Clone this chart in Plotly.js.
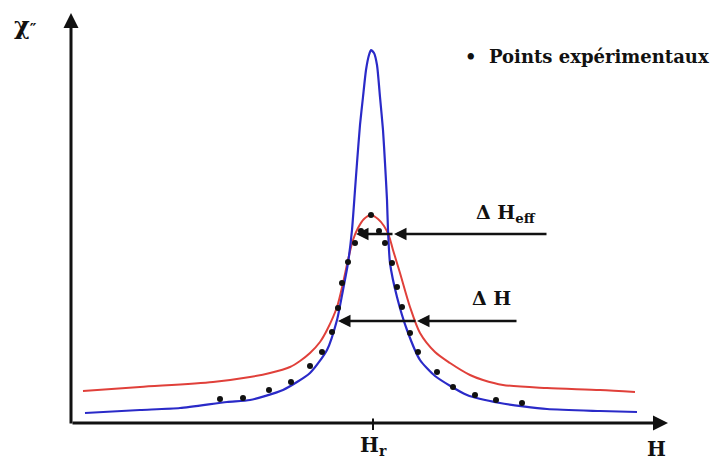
<!DOCTYPE html>
<html>
<head>
<meta charset="utf-8">
<script src="https://cdn.plot.ly/plotly-3.0.1.min.js"></script>
<style>html,body{margin:0;padding:0;background:#fff;}#chart{width:719px;height:464px;}</style>
</head>
<body>
<div id="chart"></div>
<script>
// Field H (arbitrary units, 0 = resonance field Hr) and chi'' (arbitrary units)
const blueH = [-287,-232,-192,-145,-122,-89,-62,-45,-35,-29,-24,-20,-17,-15,-12,-9,-6,-3,-1,2,5,8,11,13,15,16,18,25,35,48,63,95,128,175,228,265];
const blueChi = [11,14,16,22,24,34,51,74,104,134,161,194,234,261,299,327,354,369,374,371,359,327,294,261,224,194,161,127,94,64,48,29,21,15,13,12];

const redH = [-289,-232,-159,-122,-102,-82,-72,-62,-52,-45,-35,-29,-24,-19,-14,-8,-1,6,12,17,21,28,38,48,63,78,98,111,131,175,228,263];
const redChi = [33,37,42,47,51,57,63,71,82,94,117,141,164,184,196,205,209,205,198,188,174,151,117,91,72,61,49,44,39,36,34,32];

const expH = [-152,-129,-103,-81,-62,-50,-40,-34,-30,-24,-17,-11,-1,7,13,20,25,30,38,46,65,81,103,124,150];
const expChi = [25,26,34,42,58,72,92,116,141,162,181,193,209,193,181,161,137,117,91,72,52,37,29,24,21];

const resonanceH = 1;
const widthEff = {y: 190, left: -16, right: 22, labelEnd: 176};
const widthH = {y: 103, left: -34, right: 45, labelEnd: 146};

const serif = 'DejaVu Serif, Liberation Serif, serif';

const traces = [
  {x: redH, y: redChi, mode: 'lines', line: {color: '#e0403a', width: 2, shape: 'spline', smoothing: 0.8}, hoverinfo: 'skip'},
  {x: blueH, y: blueChi, mode: 'lines', line: {color: '#2a2ac8', width: 2.2, shape: 'spline', smoothing: 0.6}, hoverinfo: 'skip'},
  {x: expH, y: expChi, mode: 'markers', marker: {color: '#111', size: 6}, hoverinfo: 'skip'}
];

function arrow(x, y, ax, ay, w, head) {
  return {x: x, y: y, ax: ax, ay: ay, xref: 'x', yref: 'y', axref: 'x', ayref: 'y',
          showarrow: true, arrowhead: head, arrowwidth: w, arrowsize: 1, arrowcolor: '#111', text: ''};
}
function label(x, y, text, size, anchor) {
  return {x: x, y: y, xref: 'x', yref: 'y', text: text, showarrow: false, xanchor: anchor || 'center', yanchor: 'middle',
          font: {family: serif, size: size, color: '#111', weight: 'bold'}};
}

const annotations = [
  arrow(296, 1, -301, 1, 3, 2),
  arrow(-301, 411, -301, -1, 3, 2),
  arrow(resonanceH, -6, resonanceH, 7, 2, 0),
  arrow(widthEff.right, widthEff.y, widthEff.labelEnd, widthEff.y, 2.5, 2),
  arrow(widthEff.left, widthEff.y, widthEff.right, widthEff.y, 2.5, 2),
  arrow(widthH.right, widthH.y, widthH.labelEnd, widthH.y, 2.5, 2),
  arrow(widthH.left, widthH.y, widthH.right, widthH.y, 2.5, 2),
  label(134, 211, 'Δ H<sub>eff</sub>', 19),
  label(119, 126, 'Δ H', 19),
  label(91, 368, '•  Points expérimentaux', 18, 'left'),
  label(resonanceH, -22, 'H<sub>r</sub>', 20),
  label(284, -25, 'H', 20),
  label(-347, 399, 'χ<span style="font-size:15px">″</span>', 24)
];

const layout = {
  width: 719, height: 464,
  margin: {l: 0, r: 0, t: 0, b: 0},
  paper_bgcolor: '#fff', plot_bgcolor: '#fff',
  showlegend: false,
  xaxis: {range: [-372, 347], visible: false, fixedrange: true},
  yaxis: {range: [-40, 424], visible: false, fixedrange: true},
  annotations: annotations
};

Plotly.newPlot('chart', traces, layout, {staticPlot: true});
</script>
</body>
</html>
